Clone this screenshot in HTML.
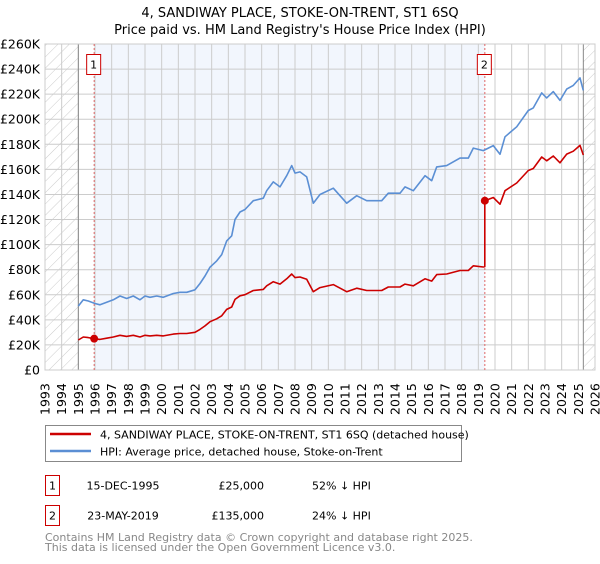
<!DOCTYPE html>
<html><head><meta charset="utf-8">
<style>
body{margin:0;background:#fff;font-family:"DejaVu Sans","Liberation Sans",sans-serif;}
svg text{font-family:"DejaVu Sans","Liberation Sans",sans-serif;}
</style></head>
<body>
<svg id="chart" width="600" height="560" viewBox="0 0 600 560" xmlns="http://www.w3.org/2000/svg">
<defs>
<pattern id="hatch" width="8" height="8" patternUnits="userSpaceOnUse" patternTransform="rotate(45)">
<line x1="0" y1="0" x2="0" y2="8" stroke="#ccc" stroke-width="1"/>
</pattern>
</defs>
<text x="300" y="17" text-anchor="middle" font-size="13" fill="#000">4, SANDIWAY PLACE, STOKE-ON-TRENT, ST1 6SQ</text>
<text x="300" y="34" text-anchor="middle" font-size="13" fill="#000">Price paid vs. HM Land Registry's House Price Index (HPI)</text>
<g id="plot"></g>
<g>
<rect x="45.5" y="425.5" width="416" height="36" fill="#fff" stroke="#888"/>
<line x1="50" y1="434" x2="91" y2="434" stroke="#cc0000" stroke-width="2.5"/>
<text x="100" y="438.5" font-size="11">4, SANDIWAY PLACE, STOKE-ON-TRENT, ST1 6SQ (detached house)</text>
<line x1="50" y1="451" x2="91" y2="451" stroke="#5b8fd4" stroke-width="2.5"/>
<text x="100" y="455.5" font-size="11">HPI: Average price, detached house, Stoke-on-Trent</text>
</g>
<g>
<rect x="45.5" y="475.5" width="14" height="20" fill="#fff" stroke="#cc0000"/>
<text x="52.5" y="489.5" text-anchor="middle" font-size="11">1</text>
<text x="123" y="489.5" text-anchor="middle" font-size="11">15-DEC-1995</text>
<text x="264" y="489.5" text-anchor="end" font-size="11">£25,000</text>
<text x="312" y="489.5" font-size="11">52% ↓ HPI</text>
<rect x="45.5" y="505.5" width="14" height="20" fill="#fff" stroke="#cc0000"/>
<text x="52.5" y="519.5" text-anchor="middle" font-size="11">2</text>
<text x="123" y="519.5" text-anchor="middle" font-size="11">23-MAY-2019</text>
<text x="264" y="519.5" text-anchor="end" font-size="11">£135,000</text>
<text x="312" y="519.5" font-size="11">24% ↓ HPI</text>
</g>
<text x="45" y="541" font-size="11" fill="#888">Contains HM Land Registry data © Crown copyright and database right 2025.</text>
<text x="45" y="551" font-size="11" fill="#888">This data is licensed under the Open Government Licence v3.0.</text>
</svg>
<script>
const hpiYears = [
1995.0,1995.3,1995.6,1996.0,1996.3,1996.7,1997.1,1997.5,1997.9,1998.3,
1998.7,1999.0,1999.3,1999.7,2000.1,2000.7,2001.1,2001.5,2002.0,2002.3,
2002.6,2002.9,2003.3,2003.6,2003.9,2004.2,2004.4,2004.7,2005.0,2005.5,
2006.1,2006.3,2006.7,2007.1,2007.5,2007.8,2008.0,2008.3,2008.7,2009.1,
2009.5,2010.3,2011.1,2011.7,2012.3,2013.2,2013.6,2014.3,2014.6,2015.1,
2015.8,2016.2,2016.5,2017.1,2017.9,2018.4,2018.7,2019.3,2019.9,2020.3,
2020.6,2021.3,2022.0,2022.3,2022.8,2023.1,2023.5,2023.9,2024.3,2024.7,
2025.1,2025.3];
const hpiValues = [
51,56,55,53,52,54,56,59,57,59,
56,59,58,59,58,61,62,62,64,69,
75,82,87,92,103,107,120,126,128,135,
137,143,150,146,155,163,157,158,154,133,
140,145,133,139,135,135,141,141,146,143,
155,151,162,163,169,169,177,175,179,172,
186,194,207,209,221,217,222,215,224,227,
233,223];
const saleYears = [1995.95, 2019.39];
const salePrices = [25, 135];
const yTicks = [0,20,40,60,80,100,120,140,160,180,200,220,240,260];
const xTicks = [1993,1994,1995,1996,1997,1998,1999,2000,2001,2002,2003,2004,2005,2006,2007,2008,2009,2010,2011,2012,2013,2014,2015,2016,2017,2018,2019,2020,2021,2022,2023,2024,2025,2026];
</script>
<script>
(function(){
const n = Math.min(hpiYears.length, hpiValues.length);
const L=45,R=595,T=44,B=370,x0=1993,x1=2026,ymax=260;
const X=t=>L+(t-x0)*(R-L)/(x1-x0);
const Y=v=>B-v*(B-T)/ymax;
const NS="http://www.w3.org/2000/svg";
const g=document.getElementById('plot');
function mk(tag,attrs,parent){const e=document.createElementNS(NS,tag);for(const k in attrs)e.setAttribute(k,attrs[k]);(parent||g).appendChild(e);return e;}
const lastData=hpiYears[n-1];
let e=mk('rect',{x:X(saleYears[0]),y:T,width:X(saleYears[1])-X(saleYears[0]),height:B-T,fill:'#f2f6fd'});


e=mk('rect',{x:L,y:T,width:X(1995)-L,height:B-T,fill:'url(#hatch)'});


e=mk('rect',{x:X(lastData),y:T,width:R-X(lastData),height:B-T,fill:'url(#hatch)'});


yTicks.forEach(v=>{
 e=mk('line',{x1:L,x2:R,y1:Y(v),y2:Y(v),stroke:'#ccc','stroke-width':1});
 
 
 e=mk('text',{x:40,y:Y(v)+4.5,'text-anchor':'end','font-size':12.5});
 e.textContent=v===0?'£0':'£'+v+'K';
 
 
});
xTicks.forEach(t=>{
 e=mk('line',{x1:X(t),x2:X(t),y1:T,y2:B,stroke:'#ccc','stroke-width':1});
 
 
 e=mk('text',{x:0,y:0,'font-size':12.5,transform:'translate('+(X(t)+4.5)+',415) rotate(-90)'});
 e.textContent=t;
 
 
});
e=mk('line',{x1:X(1995),x2:X(1995),y1:T,y2:B,stroke:'#888','stroke-width':1});


e=mk('line',{x1:X(lastData),x2:X(lastData),y1:T,y2:B,stroke:'#888','stroke-width':1});


e=mk('rect',{x:L,y:T,width:R-L,height:B-T,fill:'none',stroke:'#ccc'});


function hpiAt(t){
 if(t<=hpiYears[0])return hpiValues[0];
 for(let i=1;i<n;i++){if(t<=hpiYears[i]){const f=(t-hpiYears[i-1])/(hpiYears[i]-hpiYears[i-1]);return hpiValues[i-1]+f*(hpiValues[i]-hpiValues[i-1]);}}
 return hpiValues[n-1];
}
saleYears.forEach((s,i)=>{
 e=mk('line',{x1:X(s),x2:X(s),y1:T,y2:B,stroke:'#e06666','stroke-width':1,'stroke-dasharray':'2,2'});
 
 
 e=mk('rect',{x:X(s)-7.5,y:54.5,width:14,height:20,fill:'#fff',stroke:'#cc0000'});
 
 
 e=mk('text',{x:X(s)-0.5,y:68.5,'text-anchor':'middle','font-size':11});
 e.textContent=String(i+1);
 
 
});
let d='';
for(let i=0;i<n;i++)d+=(i?'L':'M')+X(hpiYears[i]).toFixed(1)+','+Y(hpiValues[i]).toFixed(1);
e=mk('path',{d:d,fill:'none',stroke:'#5b8fd4','stroke-width':1.6,'stroke-linejoin':'round'});


const r0=salePrices[0]/hpiAt(saleYears[0]), r1=salePrices[1]/hpiAt(saleYears[1]);
let pts=[];
for(let i=0;i<n;i++){if(hpiYears[i]<saleYears[1])pts.push([hpiYears[i],hpiValues[i]*r0]);}
pts.push([saleYears[1],hpiAt(saleYears[1])*r0]);
pts.push([saleYears[1],salePrices[1]]);
for(let i=0;i<n;i++){if(hpiYears[i]>saleYears[1])pts.push([hpiYears[i],hpiValues[i]*r1]);}
d=pts.map((p,i)=>(i?'L':'M')+X(p[0]).toFixed(1)+','+Y(p[1]).toFixed(1)).join('');
e=mk('path',{d:d,fill:'none',stroke:'#cc0000','stroke-width':1.6,'stroke-linejoin':'round'});


saleYears.forEach((s,i)=>{
 e=mk('circle',{cx:X(s),cy:Y(salePrices[i]),r:4,fill:'#cc0000'});
 
 
});
})();
</script>
</body></html>
